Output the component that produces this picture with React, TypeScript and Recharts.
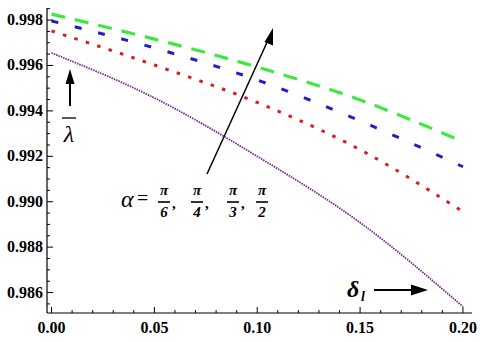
import React from "react";
import { LineChart, Line, XAxis, YAxis, Customized } from "recharts";

const deltaValues = [0, 0.05, 0.1, 0.15, 0.2];
const alphaPi6 = [0.99655, 0.99457, 0.992, 0.98908, 0.98538];
const alphaPi4 = [0.99752, 0.99602, 0.99437, 0.99229, 0.98956];
const alphaPi3 = [0.99796, 0.99677, 0.99536, 0.99356, 0.99154];
const alphaPi2 = [0.99826, 0.99716, 0.99593, 0.99448, 0.99264];

const xMajorTicks = [0, 0.05, 0.1, 0.15, 0.2];
const yMajorTicks = [0.986, 0.988, 0.99, 0.992, 0.994, 0.996, 0.998];
const xLabels = ["0.00", "0.05", "0.10", "0.15", "0.20"];
const yLabels = ["0.986", "0.988", "0.990", "0.992", "0.994", "0.996", "0.998"];

const xMinorTicks = Array.from({ length: 21 }, (_, i) => +(i * 0.01).toFixed(2));
const yMinorTicks = Array.from({ length: 27 }, (_, i) => +(0.9855 + i * 0.0005).toFixed(4));

const data = deltaValues.map((d, i) => ({
  x: d,
  a6: alphaPi6[i],
  a4: alphaPi4[i],
  a3: alphaPi3[i],
  a2: alphaPi2[i],
}));

const FONT = "Liberation Serif, Times New Roman, DejaVu Serif, serif";
const serif = (extra: any = {}) => ({ fontFamily: FONT, ...extra });

const majorIndex = (v: number, arr: number[]) => arr.findIndex((m) => Math.abs(m - v) < 1e-7);

const BottomTick = (props: any) => {
  const { x, y, payload } = props;
  const idx = majorIndex(payload.value, xMajorTicks);
  const len = idx >= 0 ? 6 : 3;
  return (
    <g>
      <line x1={x} x2={x} y1={y} y2={y - len} stroke="#000" strokeWidth={1} />
      {idx >= 0 && (
        <text x={x} y={y + 20} textAnchor="middle" style={serif({ fontWeight: "bold", fontSize: 16 })} fill="#000">
          {xLabels[idx]}
        </text>
      )}
    </g>
  );
};

const TopTick = (props: any) => {
  const { x, y, payload } = props;
  const idx = majorIndex(payload.value, xMajorTicks);
  const len = idx >= 0 ? 6 : 3;
  return <line x1={x} x2={x} y1={y} y2={y + len} stroke="#000" strokeWidth={1} />;
};

const LeftTick = (props: any) => {
  const { x, y, payload } = props;
  const idx = majorIndex(payload.value, yMajorTicks);
  const len = idx >= 0 ? 6 : 3;
  return (
    <g>
      <line x1={x} x2={x + len} y1={y} y2={y} stroke="#000" strokeWidth={1} />
      {idx >= 0 && (
        <text x={x - 4} y={y + 5} textAnchor="end" style={serif({ fontWeight: "bold", fontSize: 16 })} fill="#000">
          {yLabels[idx]}
        </text>
      )}
    </g>
  );
};

const RightTick = (props: any) => {
  const { x, y, payload } = props;
  const idx = majorIndex(payload.value, yMajorTicks);
  const len = idx >= 0 ? 6 : 3;
  return <line x1={x} x2={x - len} y1={y} y2={y} stroke="#000" strokeWidth={1} />;
};

const Frac = ({ x, den }: { x: number; den: string }) => (
  <g fill="#000">
    <text x={x} y={195} textAnchor="middle" style={serif({ fontSize: 15, fontWeight: "bold", fontStyle: "italic" })}>π</text>
    <line x1={x - 6} x2={x + 6} y1={202} y2={202} stroke="#000" strokeWidth={1.6} />
    <text x={x} y={217} textAnchor="middle" style={serif({ fontSize: 15, fontWeight: "bold", fontStyle: "italic" })}>{den}</text>
  </g>
);

const Annotations = () => (
  <g>
    {/* vertical arrow and lambda */}
    <line x1={70} x2={70} y1={106} y2={80} stroke="#000" strokeWidth={2} />
    <polygon points="70,69 65.5,84 74.5,84" fill="#000" />
    <line x1={62} x2={76} y1={118} y2={118} stroke="#000" strokeWidth={1.3} />
    <text x={69} y={142} textAnchor="middle" style={serif({ fontStyle: "italic", fontSize: 24 })} fill="#000">λ</text>

    {/* diagonal arrow */}
    <line x1={207} x2={269} y1={174} y2={38} stroke="#000" strokeWidth={1.5} />
    <polygon points="273,28 264.5,42 273,45.5" fill="#000" />

    {/* alpha label */}
    <text x={121} y={207} style={serif({ fontStyle: "italic", fontSize: 24 })} fill="#000">α</text>
    <text x={137} y={205} style={serif({ fontSize: 20 })} fill="#000">=</text>
    <Frac x={164} den="6" />
    <text x={172} y={208} style={serif({ fontWeight: "bold", fontSize: 15 })} fill="#000">,</text>
    <Frac x={197} den="4" />
    <text x={205} y={208} style={serif({ fontWeight: "bold", fontSize: 15 })} fill="#000">,</text>
    <Frac x={233} den="3" />
    <text x={241} y={208} style={serif({ fontWeight: "bold", fontSize: 15 })} fill="#000">,</text>
    <Frac x={262} den="2" />

    {/* delta label and arrow */}
    <text x={347} y={297} style={serif({ fontStyle: "italic", fontWeight: "bold", fontSize: 24 })} fill="#000">δ</text>
    <text x={361} y={301} style={serif({ fontStyle: "italic", fontWeight: "bold", fontSize: 14 })} fill="#000">l</text>
    <line x1={374} x2={415} y1={290} y2={290} stroke="#000" strokeWidth={2.2} />
    <polygon points="428,290 411,284.5 411,295.5" fill="#000" />
  </g>
);

export default function App() {
  return (
    <div style={{ position: "absolute", left: 0, top: 0, width: 480, height: 342, background: "#fff", fontFamily: FONT }}>
      <LineChart width={480} height={342} data={data} margin={{ top: 8, right: 8, bottom: 0, left: 0 }}>
        <XAxis
          xAxisId="bottom"
          dataKey="x"
          type="number"
          domain={[-0.0022, 0.2044]}
          allowDataOverflow
          ticks={xMinorTicks}
          interval={0}
          tickSize={0}
          tickMargin={0}
          tickLine={false}
          tick={<BottomTick />}
          height={29}
          axisLine={{ stroke: "#000", strokeWidth: 1.2 }}
        />
        <XAxis
          xAxisId="top"
          orientation="top"
          dataKey="x"
          type="number"
          domain={[-0.0022, 0.2044]}
          allowDataOverflow
          ticks={xMinorTicks}
          interval={0}
          tickSize={0}
          tickMargin={0}
          tickLine={false}
          tick={<TopTick />}
          height={0}
          axisLine={{ stroke: "#000", strokeWidth: 1.2 }}
        />
        <YAxis
          yAxisId="left"
          type="number"
          domain={[0.9851, 0.99853]}
          allowDataOverflow
          ticks={yMinorTicks}
          interval={0}
          tickSize={0}
          tickMargin={0}
          tickLine={false}
          tick={<LeftTick />}
          width={47}
          axisLine={{ stroke: "#000", strokeWidth: 1.2 }}
        />
        <YAxis
          yAxisId="right"
          orientation="right"
          type="number"
          domain={[0.9851, 0.99853]}
          allowDataOverflow
          ticks={yMinorTicks}
          interval={0}
          tickSize={0}
          tickMargin={0}
          tickLine={false}
          tick={<RightTick />}
          width={0}
          axisLine={{ stroke: "#000", strokeWidth: 1.2 }}
        />
        <Line xAxisId="bottom" yAxisId="left" type="monotone" dataKey="a6" stroke="#6e2a8c" strokeWidth={1.8} strokeDasharray="1.5 1" dot={false} isAnimationActive={false} />
        <Line xAxisId="bottom" yAxisId="left" type="monotone" dataKey="a4" stroke="#d81e1e" strokeWidth={3} strokeDasharray="3.5 8.5" dot={false} isAnimationActive={false} />
        <Line xAxisId="bottom" yAxisId="left" type="monotone" dataKey="a3" stroke="#1f1fc4" strokeWidth={3} strokeDasharray="7 17" dot={false} isAnimationActive={false} />
        <Line xAxisId="bottom" yAxisId="left" type="monotone" dataKey="a2" stroke="#3ee83e" strokeWidth={3.2} strokeDasharray="14 10" dot={false} isAnimationActive={false} />
        <Customized component={Annotations} />
      </LineChart>
    </div>
  );
}
